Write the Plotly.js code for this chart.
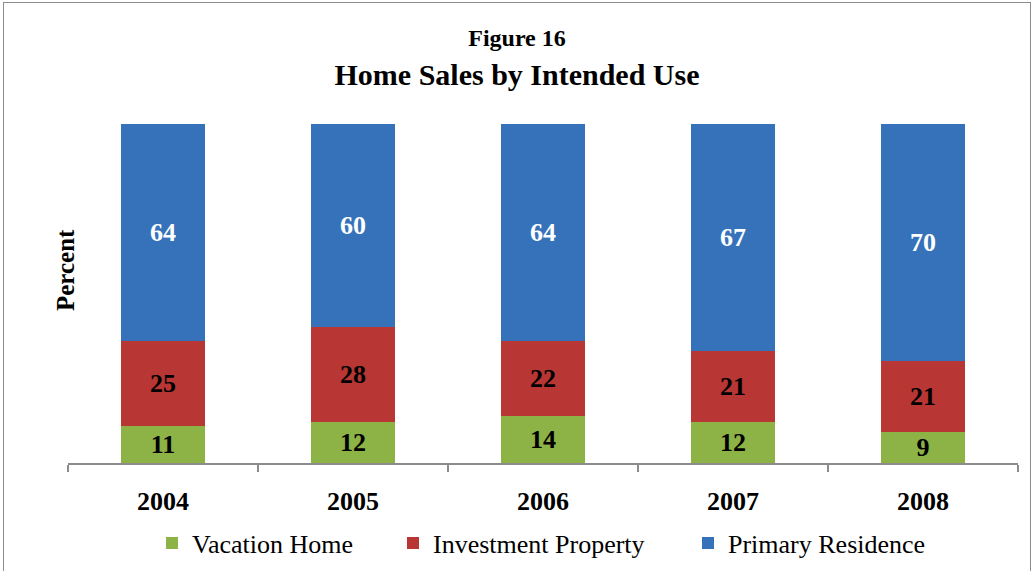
<!DOCTYPE html>
<html>
<head>
<meta charset="utf-8">
<script src="https://cdn.plot.ly/plotly-3.0.1.min.js"></script>
<style>
  html, body { margin: 0; padding: 0; background: #fff; }
  #frame { position: absolute; left: 3px; top: 2px; width: 1028px; height: 600px; border: 1px solid #8c8c8c; box-sizing: border-box; }
  #chart { position: absolute; left: 0; top: 0; width: 1034px; height: 571px; }
</style>
</head>
<body>
<div id="frame"></div>
<div id="chart"></div>
<script>
const years = ["2004", "2005", "2006", "2007", "2008"];
const vacationHome = [11, 12, 14, 12, 9];
const investmentProperty = [25, 28, 22, 21, 21];
const primaryResidence = [64, 60, 64, 67, 70];

const serif = "Liberation Serif, Times New Roman, serif";

function barTrace(name, values, color, textColor, legendId) {
  return {
    type: "bar",
    name: name,
    legend: legendId,
    x: years,
    y: values,
    text: values.map(String),
    texttemplate: "<b>%{text}</b>",
    textposition: "inside",
    insidetextanchor: "middle",
    textangle: 0,
    constraintext: "none",
    textfont: { family: serif, size: 26, color: textColor },
    marker: { color: color, line: { width: 0 } },
    hoverinfo: "x+y+name"
  };
}

const data = [
  barTrace("Vacation Home", vacationHome, "#8db245", "#000000", "legend"),
  barTrace("Investment Property", investmentProperty, "#b83633", "#000000", "legend2"),
  barTrace("Primary Residence", primaryResidence, "#3572b9", "#ffffff", "legend3")
];

function legendAt(xPix) {
  return {
    orientation: "h",
    x: xPix / 1034,
    xref: "container",
    xanchor: "left",
    y: 28 / 571,
    yref: "container",
    yanchor: "middle",
    font: { family: serif, size: 26, color: "#000" },
    itemwidth: 30,
    bgcolor: "rgba(0,0,0,0)",
    borderwidth: 0
  };
}

const layout = {
  width: 1034,
  height: 571,
  paper_bgcolor: "rgba(0,0,0,0)",
  plot_bgcolor: "rgba(0,0,0,0)",
  barmode: "stack",
  bargap: 0.56,
  margin: { l: 68, r: 16, t: 124, b: 108, autoexpand: false },
  font: { family: serif, color: "#000" },
  title: {
    text: "<span style='font-size:24px'>Figure 16</span><br>Home Sales by Intended Use",
    font: { family: serif, size: 30, weight: "bold", color: "#000" },
    x: 0.5,
    xanchor: "center",
    y: 0.92,
    yanchor: "top",
    yref: "container"
  },
  xaxis: {
    type: "category",
    showline: true,
    linecolor: "#8c8c8c",
    linewidth: 1.5,
    ticks: "outside",
    tickson: "boundaries",
    ticklen: 7,
    tickcolor: "#8c8c8c",
    tickwidth: 1.5,
    ticklabelstandoff: 14,
    tickfont: { family: serif, size: 26, weight: "bold", color: "#000" },
    showgrid: false,
    automargin: false,
    fixedrange: true
  },
  yaxis: {
    range: [0, 100],
    showticklabels: false,
    showgrid: false,
    zeroline: false,
    showline: false,
    ticks: "",
    automargin: false,
    fixedrange: true
  },
  annotations: [{
    text: "<b>Percent</b>",
    textangle: -90,
    xref: "paper",
    yref: "paper",
    x: -3 / 950,
    xanchor: "center",
    y: (463 - 270) / 339,
    yanchor: "middle",
    showarrow: false,
    font: { family: serif, size: 25, color: "#000" }
  }],
  showlegend: true,
  legend: legendAt(152),
  legend2: legendAt(393),
  legend3: legendAt(688)
};

Plotly.newPlot("chart", data, layout, { displayModeBar: false, staticPlot: true });
</script>
</body>
</html>
